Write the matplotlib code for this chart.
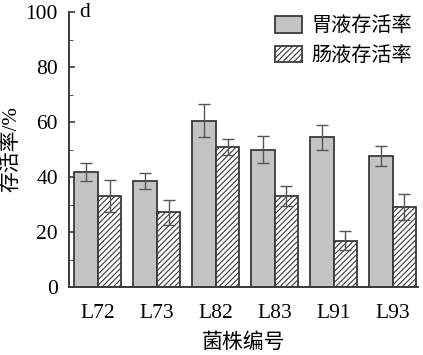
import numpy as np
import matplotlib.pyplot as plt

plt.rcParams['font.family'] = ['Liberation Serif', 'Noto Sans CJK SC']
plt.rcParams['hatch.linewidth'] = 0.8
plt.rcParams['hatch.color'] = '#222222'

strains = ["L72", "L73", "L82", "L83", "L91", "L93"]
gastric = [41.8, 38.5, 60.5, 50.0, 54.5, 47.6]
gastric_err = [3.4, 2.9, 6.0, 4.9, 4.6, 3.6]
intestinal = [33.0, 27.2, 51.0, 33.0, 16.8, 29.0]
intestinal_err = [5.8, 4.6, 3.0, 3.6, 3.4, 4.8]

fig = plt.figure(figsize=(4.23, 3.55), dpi=100)
ax = fig.add_axes([0.163, 0.1915, 0.825, 0.7745])

x = np.arange(len(strains))
w = 0.4
edge = '#3a3a3a'
err_kw = dict(ecolor='#555555', elinewidth=1.0, capsize=4, capthick=1.0)

ax.bar(x - w / 2, gastric, w, yerr=gastric_err, color='#c3c3c3',
       edgecolor=edge, linewidth=1.3, error_kw=err_kw, label='胃液存活率')
ax.bar(x + w / 2, intestinal, w, yerr=intestinal_err, color='white',
       edgecolor=edge, linewidth=1.3, hatch='//////', error_kw=err_kw,
       label='肠液存活率')

ax.set_xlim(-0.49, 5.43)
ax.set_ylim(0, 100)
ax.set_yticks(range(0, 101, 20))
ax.set_yticks(range(10, 100, 20), minor=True)
ax.set_xticks(x)
ax.set_xticklabels(strains)
ax.tick_params(axis='both', labelsize=15.5, direction='in', color=edge, width=1.2)
ax.tick_params(axis='y', length=4, pad=8)
ax.tick_params(axis='y', which='minor', length=3, direction='in', color=edge)
ax.tick_params(axis='x', length=0, pad=12)

for s in ['top', 'right']:
    ax.spines[s].set_visible(False)
for s in ['left', 'bottom']:
    ax.spines[s].set_color(edge)
    ax.spines[s].set_linewidth(1.4)

ax.set_ylabel('存活率/%', fontsize=15, labelpad=3)
ax.set_xlabel('菌株编号', fontsize=15, labelpad=8)
ax.text(0.03, 1.0, 'd', transform=ax.transAxes, fontsize=15.5, va='center', ha='left')

ax.legend(loc='upper right', bbox_to_anchor=(1.035, 1.05), frameon=False,
          fontsize=14.5, handlelength=1.35, handleheight=0.85, handletextpad=0.45,
          labelspacing=0.45)

fig.savefig('out.png', dpi=100)
